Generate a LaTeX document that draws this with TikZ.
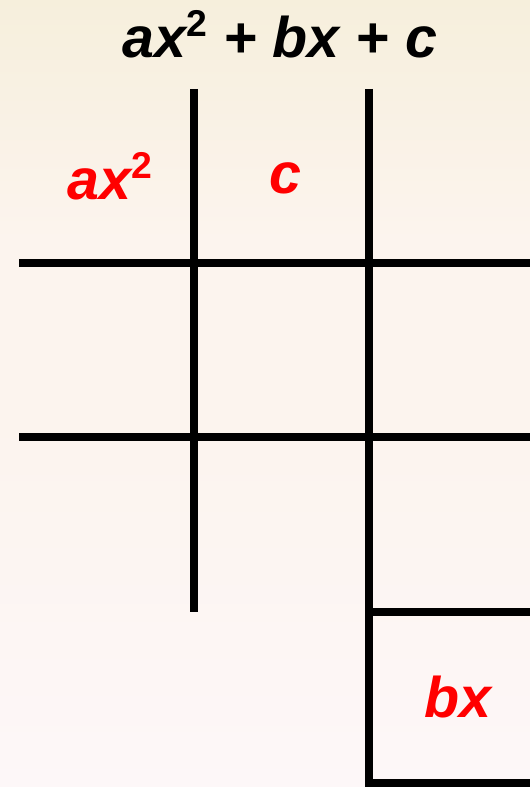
\documentclass[tikz,border=0pt]{standalone}
\usepackage{fontspec}
\setmainfont{Liberation Sans}
\definecolor{paper top}{RGB}{246,239,220}
\definecolor{paper mid}{RGB}{252,244,238}
\definecolor{paper bottom}{RGB}{253,247,248}
\definecolor{termred}{RGB}{255,0,0}
\newcommand{\sqr}{\raisebox{0.36em}{\fontsize{28}{28}\selectfont\upshape 2}}
\tikzset{
    rule/.style={line width=5.8pt, black},
    term/.style={font=\fontsize{43}{43}\selectfont\bfseries\itshape, inner sep=0pt},
}
\begin{document}
\begin{tikzpicture}[x=0.75pt, y=-0.75pt]
    % Background
    \shade[top color=paper top, bottom color=paper mid, middle color=paper mid!50!paper top]
        (0,0) rectangle (530,240);
    \fill[paper mid] (0,239) rectangle (530,420);
    \shade[top color=paper mid, bottom color=paper bottom] (0,419) rectangle (530,787);
    \useasboundingbox (0,0) rectangle (530,787);

    % Title
    \node[term, black] (title) at (280,34) {ax\sqr{} + bx + c};

    % Grid
    \draw[rule] (194,89) -- (194,612);
    \draw[rule] (369,89) -- (369,787);
    \draw[rule] (19,263) -- (530,263);
    \draw[rule] (19,437) -- (530,437);
    \draw[rule] (369,612) -- (530,612);
    \draw[rule] (369,783) -- (530,783);

    % Terms
    \node[term, termred] (sq) at (110,176) {ax\sqr};
    \node[term, termred] (const) at (285,178) {c};
    \node[term, termred] (lin) at (458,697) {bx};
\end{tikzpicture}
\end{document}
